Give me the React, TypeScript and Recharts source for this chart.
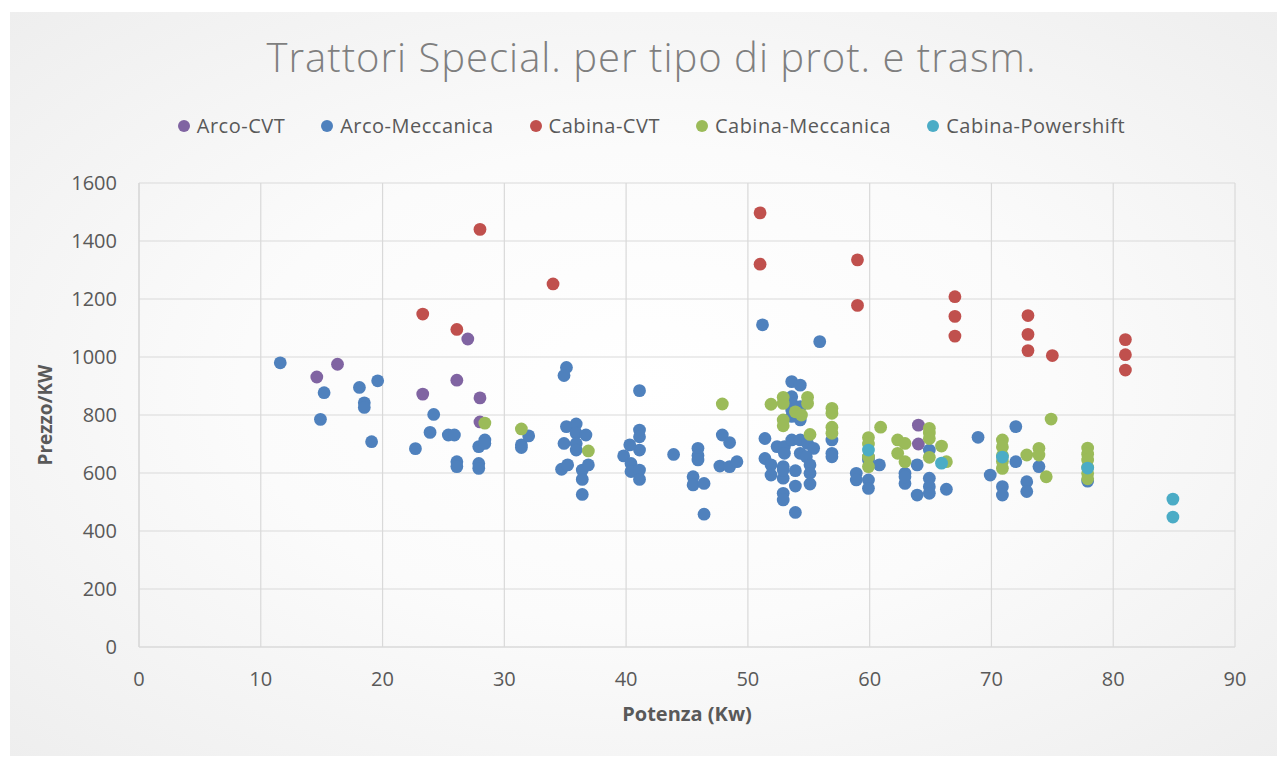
import {
  ScatterChart,
  Scatter,
  XAxis,
  YAxis,
  CartesianGrid,
} from "recharts";

// [Potenza kW, Prezzo/KW]
const arcoCvt = [
  [14.6, 931], [16.3, 975], [23.3, 872], [26.1, 920], [27.0, 1062],
  [28.0, 859], [28.0, 776], [64.0, 765], [64.0, 700],
];

const arcoMeccanica = [
  [11.6, 980], [14.9, 785], [15.2, 877], [18.1, 895], [18.5, 842], [18.5, 826],
  [19.6, 918], [19.1, 708], [22.7, 684], [23.9, 740], [24.2, 802], [25.4, 731],
  [25.9, 731], [26.1, 639], [26.1, 622], [27.9, 691], [28.4, 714], [28.4, 702],
  [27.9, 633], [27.9, 616], [31.4, 697], [31.4, 688], [32.0, 728], [35.1, 964],
  [34.9, 936], [35.1, 760], [35.9, 769], [35.9, 737], [35.9, 702], [35.9, 679],
  [34.9, 702], [36.7, 731], [34.7, 613], [35.2, 628], [36.4, 610], [36.4, 578],
  [36.9, 628], [36.4, 526], [41.1, 884], [41.1, 748], [41.1, 725], [41.1, 679],
  [40.3, 697], [39.8, 659], [40.4, 633], [40.4, 605], [41.1, 610], [41.1, 578],
  [43.9, 664], [45.9, 685], [45.9, 660], [45.9, 645], [45.5, 587], [45.5, 559],
  [46.4, 564], [46.4, 458], [47.9, 731], [48.5, 705], [47.7, 624], [48.5, 622],
  [49.1, 639], [51.2, 1111], [55.9, 1053], [53.6, 915], [54.3, 903], [53.6, 863],
  [53.6, 840], [53.6, 817], [54.3, 829], [54.3, 783], [53.6, 795], [51.4, 719],
  [52.4, 691], [53.0, 691], [53.6, 714], [54.3, 714], [54.9, 702], [55.4, 685],
  [53.0, 668], [54.3, 668], [54.8, 656], [51.4, 650], [51.9, 628], [51.9, 593],
  [52.9, 622], [52.9, 582], [52.9, 610], [53.9, 608], [53.9, 555], [52.9, 530],
  [52.9, 507], [53.9, 464], [55.1, 628], [55.1, 599], [55.1, 562], [56.9, 714],
  [56.9, 668], [56.9, 656], [58.9, 599], [58.9, 576], [59.9, 576], [59.9, 547],
  [59.9, 645], [59.9, 655], [60.8, 628], [62.9, 599], [62.9, 564], [62.9, 587],
  [63.9, 628], [63.9, 524], [64.9, 679], [64.9, 582], [64.9, 553], [64.9, 530],
  [66.3, 544], [68.9, 723], [69.9, 593], [70.9, 553], [70.9, 524], [72.0, 760],
  [72.0, 639], [72.9, 570], [72.9, 536], [73.9, 622], [77.9, 572],
];

const cabinaCvt = [
  [23.3, 1148], [26.1, 1095], [28.0, 1440], [34.0, 1252], [51.0, 1497],
  [51.0, 1320], [59.0, 1335], [59.0, 1178], [67.0, 1208], [67.0, 1140],
  [67.0, 1072], [73.0, 1143], [73.0, 1078], [73.0, 1022], [75.0, 1005],
  [81.0, 1060], [81.0, 1008], [81.0, 955],
];

const cabinaMeccanica = [
  [28.4, 772], [31.4, 752], [36.9, 676], [47.9, 838], [51.9, 837], [52.9, 861],
  [52.9, 840], [52.9, 783], [52.9, 763], [53.9, 811], [54.4, 800], [54.9, 861],
  [54.9, 840], [55.1, 733], [56.9, 823], [56.9, 806], [56.9, 758], [56.9, 737],
  [59.9, 722], [59.9, 700], [59.9, 655], [59.9, 622], [60.9, 758], [62.3, 714],
  [62.3, 668], [62.9, 702], [62.9, 639], [64.9, 754], [64.9, 738], [64.9, 719],
  [64.9, 654], [65.9, 693], [66.3, 639], [70.9, 714], [70.9, 690], [70.9, 660],
  [70.9, 640], [70.9, 616], [72.9, 662], [73.9, 685], [73.9, 662], [74.9, 786],
  [74.5, 587], [77.9, 686], [77.9, 665], [77.9, 645], [77.9, 620], [77.9, 598],
  [77.9, 580],
];

const cabinaPowershift = [
  [59.9, 679], [65.9, 634], [70.9, 655], [77.9, 617], [84.9, 510], [84.9, 448],
];

const seriesNames = [
  "Arco-CVT",
  "Arco-Meccanica",
  "Cabina-CVT",
  "Cabina-Meccanica",
  "Cabina-Powershift",
];
const seriesData = [arcoCvt, arcoMeccanica, cabinaCvt, cabinaMeccanica, cabinaPowershift];
const COLORS = ["#8064a2", "#4f81bd", "#c0504d", "#9bbb59", "#4bacc6"];

const xTicks = [0, 10, 20, 30, 40, 50, 60, 70, 80, 90];
const yTicks = [0, 200, 400, 600, 800, 1000, 1200, 1400, 1600];

const FONT = "'Open Sans', sans-serif";
const GRID = "#d9d9d9";

const toPoints = (rows: number[][]) => rows.map(([x, y]) => ({ x, y }));

const Dot = (props: any) => (
  <circle cx={props.cx} cy={props.cy} r={6.4} fill={props.fill} />
);

export default function App() {
  return (
    <div
      style={{
        position: "relative",
        left: 2,
        top: 4,
        width: 1275,
        height: 748,
        fontFamily: FONT,
        background:
          "radial-gradient(ellipse at center, #ffffff 0%, #fbfbfb 45%, #eeeeee 100%)",
      }}
    >
      <div
        style={{
          position: "absolute",
          top: 25,
          left: 0,
          width: "100%",
          textAlign: "center",
          fontSize: 40,
          lineHeight: "40px",
          letterSpacing: 1,
          fontWeight: 300,
          color: "#7f7f7f",
          paddingLeft: 8,
          boxSizing: "border-box",
        }}
      >
        Trattori Special. per tipo di prot. e trasm.
      </div>
      <div
        style={{
          position: "absolute",
          top: 104,
          left: 0,
          width: "100%",
          display: "flex",
          justifyContent: "center",
          gap: 36,
          fontSize: 20,
          lineHeight: "20px",
          letterSpacing: 0.5,
          color: "#595959",
          paddingLeft: 8,
          boxSizing: "border-box",
        }}
      >
        {seriesNames.map((name, i) => (
          <div key={name} style={{ display: "flex", alignItems: "center" }}>
            <span
              style={{
                display: "inline-block",
                width: 12,
                height: 12,
                borderRadius: 6,
                background: COLORS[i],
                marginRight: 7,
              }}
            />
            {name}
          </div>
        ))}
      </div>
      <ScatterChart
        width={1275}
        height={748}
        margin={{ top: 171, right: 50, bottom: 33, left: 29 }}
        style={{ position: "absolute", top: 0, left: 0 }}
      >
        <CartesianGrid stroke={GRID} strokeWidth={1.2} />
        <XAxis
          type="number"
          dataKey="x"
          domain={[0, 90]}
          ticks={xTicks}
          height={80}
          tickSize={0}
          tickMargin={25}
          axisLine={{ stroke: GRID, strokeWidth: 1.2 }}
          tickLine={false}
          tick={{ fill: "#595959", fontSize: 20, fontFamily: FONT }}
          label={{
            value: "Potenza (Kw)",
            position: "insideBottom",
            offset: 6,
            style: { fill: "#595959", fontSize: 20, fontWeight: 700, fontFamily: FONT },
          }}
        />
        <YAxis
          type="number"
          dataKey="y"
          domain={[0, 1600]}
          ticks={yTicks}
          width={100}
          tickSize={0}
          tickMargin={22}
          axisLine={{ stroke: GRID, strokeWidth: 1.2 }}
          tickLine={false}
          tick={{ fill: "#595959", fontSize: 20, fontFamily: FONT }}
          label={{
            value: "Prezzo/KW",
            angle: -90,
            position: "insideLeft",
            offset: 6,
            style: {
              fill: "#595959",
              fontSize: 19,
              fontWeight: 700,
              fontFamily: FONT,
              textAnchor: "middle",
            },
          }}
        />
        {seriesData.map((rows, i) => (
          <Scatter
            key={seriesNames[i]}
            name={seriesNames[i]}
            data={toPoints(rows)}
            fill={COLORS[i]}
            shape={Dot}
            isAnimationActive={false}
          />
        ))}
      </ScatterChart>
    </div>
  );
}
